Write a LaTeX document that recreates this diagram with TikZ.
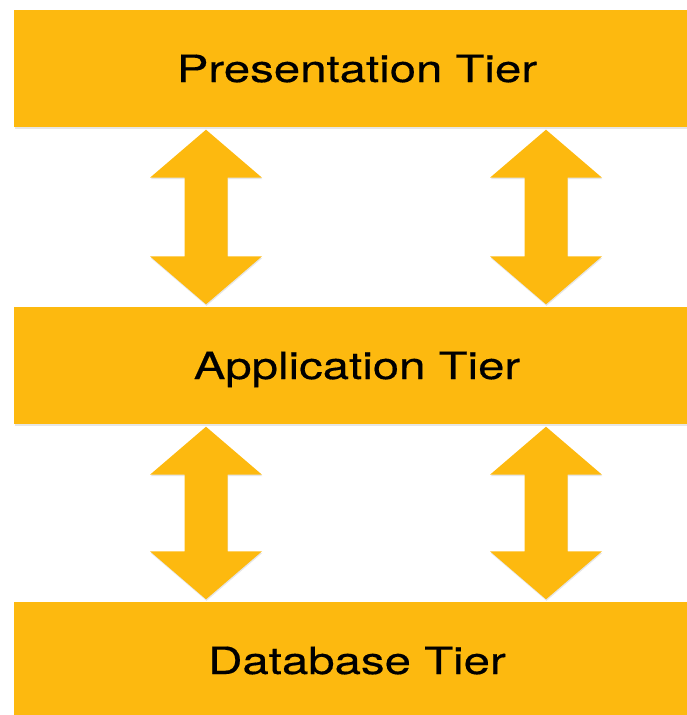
\documentclass[tikz,border=0pt]{standalone}
\usepackage{fontspec}
\newfontfamily\tierfont[FakeStretch=1.26,FakeBold=0.4]{TeX Gyre Heros}
\usetikzlibrary{calc,shadows}
\definecolor{tieryellow}{RGB}{253,185,15}
\tikzset{
	tiershade/.style={drop shadow={opacity=0.2, shadow xshift=0.5pt, shadow yshift=-1.5pt}},
	tier/.style={fill=tieryellow, tiershade, minimum width=686pt, minimum height=117pt, inner sep=0pt,
		text height=27pt, text depth=0pt, font=\tierfont\fontsize{37.6}{45}\selectfont},
	% fat double arrow: shaft 43, head 112 wide and 48 long
	tierlink/.style={fill=tieryellow, tiershade, to path={
		let \p1=(\tikztostart), \p2=(\tikztotarget) in
		(\x1,\y1-2.5pt) -- (\x1-56pt,\y1-50.5pt) -- (\x1-21.5pt,\y1-50.5pt)
		-- (\x1-21.5pt,\y2+50.5pt) -- (\x1-56pt,\y2+50.5pt) -- (\x1,\y2+2.5pt)
		-- (\x1+56pt,\y2+50.5pt) -- (\x1+21.5pt,\y2+50.5pt) -- (\x1+21.5pt,\y1-50.5pt)
		-- (\x1+56pt,\y1-50.5pt) -- cycle}}
}

\begin{document}
\begin{tikzpicture}[x=1pt,y=-1pt]
		\useasboundingbox (0,0) rectangle (687,715);
		\node[tier] (pres) at (357,68.5) {Presentation Tier};
		\node[tier] (app) at (357,365.5) {Application Tier};
		\node[tier] (data) at (357,660.5) {Database Tier};
		\coordinate (L) at (206,0);
		\coordinate (R) at (546,0);
		\foreach \c in {L,R}{
			\path[tierlink] (pres.south -| \c) to (app.north -| \c);
			\path[tierlink] (app.south -| \c) to (data.north -| \c);
		}
\end{tikzpicture}
\end{document}
